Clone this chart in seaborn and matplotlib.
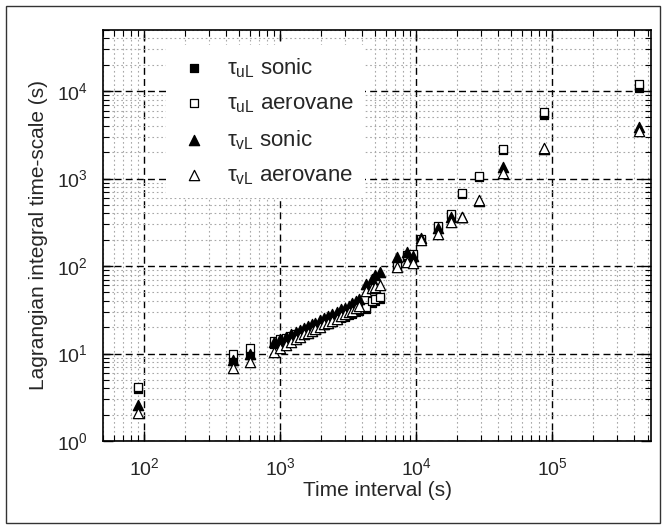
import matplotlib
matplotlib.use("Agg")
import matplotlib.pyplot as plt
import seaborn as sns
import pandas as pd
from matplotlib.patches import Rectangle
from matplotlib.ticker import LogLocator, NullFormatter

# ---- data ----
time_s = [90, 450, 600, 900, 1000, 1100, 1200, 1300, 1400, 1500, 1600, 1700, 1800,
          1950, 2100, 2250, 2400, 2600, 2800, 3000, 3200, 3400, 3600, 3800, 4300,
          4700, 5000, 5400, 7200, 8600, 9500, 10800, 14400, 18000, 21600, 28800,
          43200, 86400, 432000]
tau_uL_sonic = [3.9, 8.2, 9.6, 13, 13.5, 14.2, 15, 15.5, 16.3, 17, 17.5, 18.3, 19,
                20, 21, 22, 23, 24, 25.5, 26, 27.5, 28.5, 30, 31, 32, 38, 40, 42,
                98, 128, 132, 200, 280, 380, 660, 1040, 2100, 5300, 10800]
tau_uL_aero = [4.1, 10, 11.5, 14, 14.5, 15, 15.8, 16.5, 17.2, 18, 18.6, 19.5, 20,
               21, 22, 23, 24, 25, 26.5, 27.5, 29, 30, 31.5, 32.5, 34, 40, 42, 44,
               103, 134, 137, 205, 287, 392, 680, 1070, 2200, 5750, 12000]
tau_vL_sonic = [2.6, 8.5, 10, 13.5, 14.5, 15.5, 16.5, 17.5, 18.5, 19.5, 20.5, 21.5,
                22.5, 24, 25.5, 27, 28, 30, 32, 33, 35, 38, 40, 42, 62, 72, 78, 85,
                127, 145, 130, 209, 270, 365, 360, 560, 1350, 2200, 3900]
tau_vL_aero = [2.1, 6.8, 8, 10.5, 11.5, 12.5, 13.5, 14.5, 15.5, 16.5, 17, 18, 19,
               20, 21.5, 22.5, 23.5, 25, 26.5, 28, 29.5, 31, 33, 35, 52, 56, 58, 60,
               97, 112, 108, 199, 233, 318, 363, 565, 1170, 2230, 3500]

labels = ["τ$_{\\mathrm{uL}}$ sonic", "τ$_{\\mathrm{uL}}$ aerovane",
          "τ$_{\\mathrm{vL}}$ sonic", "τ$_{\\mathrm{vL}}$ aerovane"]
xlabel = "Time interval (s)"
ylabel = "Lagrangian integral time-scale (s)"

sns.set_style("ticks")
plt.rcParams["font.family"] = ["Liberation Sans", "DejaVu Sans"]
plt.rcParams["mathtext.fontset"] = "custom"
plt.rcParams["mathtext.rm"] = "Liberation Sans"
plt.rcParams["mathtext.it"] = "Liberation Sans:italic"
plt.rcParams["mathtext.bf"] = "Liberation Sans:bold"

fig = plt.figure(figsize=(6.66, 5.29), dpi=100)
ax = fig.add_axes([0.1547, 0.1664, 0.8228, 0.7769])

series = [
    (tau_uL_sonic, "s", "black", 36),
    (tau_uL_aero, "s", "white", 36),
    (tau_vL_sonic, "^", "black", 55),
    (tau_vL_aero, "^", "white", 55),
]
for (vals, mk, fc, sz), lab in zip(series, labels):
    df = pd.DataFrame({"t": time_s, "tau": vals})
    sns.scatterplot(data=df, x="t", y="tau", marker=mk, s=sz, color=fc,
                    edgecolor="black", linewidth=0.9, ax=ax, label=lab, zorder=3)

ax.set_xscale("log")
ax.set_yscale("log")
ax.set_xlim(50, 5.3e5)
ax.set_ylim(1, 5e4)

ax.xaxis.set_major_locator(LogLocator(base=10, numticks=10))
ax.yaxis.set_major_locator(LogLocator(base=10, numticks=10))
ax.xaxis.set_minor_locator(LogLocator(base=10, subs=range(2, 10), numticks=20))
ax.yaxis.set_minor_locator(LogLocator(base=10, subs=range(2, 10), numticks=20))
ax.xaxis.set_minor_formatter(NullFormatter())
ax.yaxis.set_minor_formatter(NullFormatter())

ax.grid(which="major", linestyle=(0, (5, 3)), color="black", linewidth=1.0, zorder=1)
ax.grid(which="minor", linestyle=(0, (1.5, 2.5)), color="#a8a8a8", linewidth=0.8, zorder=0)
ax.set_axisbelow(True)

ax.tick_params(which="both", direction="in", top=True, right=True, color="black")
ax.tick_params(which="major", length=7, width=1.0, labelsize=14)
ax.tick_params(axis="x", which="major", pad=12)
ax.tick_params(axis="y", which="major", pad=11)
ax.tick_params(which="minor", length=4, width=0.8)
for sp in ax.spines.values():
    sp.set_color("black")
    sp.set_linewidth(1.2)

ax.set_xlabel(xlabel, fontsize=15, labelpad=1)
ax.set_ylabel(ylabel, fontsize=15, labelpad=6)

leg = ax.legend(loc="upper left", bbox_to_anchor=(0.095, 0.99), fontsize=16,
                frameon=True, fancybox=False, framealpha=1.0, edgecolor="white",
                labelspacing=0.6, handletextpad=0.75, borderpad=0.5,
                handlelength=1.5, markerscale=1.0)
leg.get_frame().set_linewidth(0)

fig.patches.append(Rectangle((6 / 666, 6 / 529), 654 / 666, 517 / 529,
                             transform=fig.transFigure, fill=False,
                             edgecolor="#333333", linewidth=1.0))

fig.savefig("out.png", dpi=100)
